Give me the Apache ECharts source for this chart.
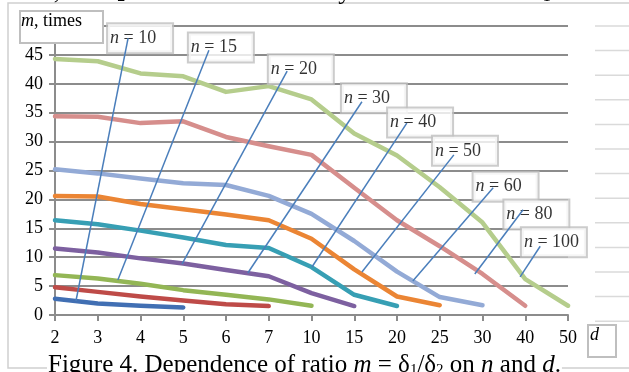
<!DOCTYPE html>
<html>
<head>
<meta charset="utf-8">
<script src="https://cdn.jsdelivr.net/npm/echarts@6/dist/echarts.min.js"></script>
<style>
  html, body { margin: 0; padding: 0; background: #fff; }
  #chart { width: 629px; height: 372px; }
</style>
</head>
<body>
<div id="chart"></div>
<script>
// d values on the x axis
const dLabels = ['2', '3', '4', '5', '6', '7', '10', '15', '20', '25', '30', '40', '50'];

// m = δ1/δ2 for every n, read from d = 2 upward
const m10 = [2.8, 2.0, 1.6, 1.3];
const m15 = [4.8, 4.0, 3.2, 2.5, 1.85, 1.55];
const m20 = [6.9, 6.3, 5.4, 4.3, 3.5, 2.7, 1.6];
const m30 = [11.5, 10.8, 9.8, 8.9, 7.8, 6.7, 3.8, 1.55];
const m40 = [16.4, 15.7, 14.6, 13.4, 12.1, 11.6, 8.3, 3.5, 1.55];
const m50 = [20.6, 20.5, 19.2, 18.3, 17.4, 16.4, 13.2, 7.9, 3.2, 1.7];
const m60 = [25.2, 24.5, 23.6, 22.8, 22.5, 20.6, 17.5, 12.8, 7.5, 3.1, 1.7];
const m80 = [34.4, 34.3, 33.2, 33.5, 30.8, 29.2, 27.7, 22.0, 16.4, 11.9, 7.1, 1.6];
const m100 = [44.3, 43.9, 41.8, 41.3, 38.6, 39.6, 37.3, 31.4, 27.6, 22.1, 16.0, 6.2, 1.6];

const nValues = [10, 15, 20, 30, 40, 50, 60, 80, 100];
const curves = [m10, m15, m20, m30, m40, m50, m60, m80, m100];
const colors = ['#416FB3', '#BE4B48', '#93B655', '#7D60A0', '#379FB4',
                '#EB8534', '#93AAD6', '#D68E8C', '#B5CD8C'];

// callouts, [x index on d axis, m]
const boxAt = [[1.99, 47.9], [3.88, 46.3], [5.75, 42.5], [7.46, 37.5], [8.54, 33.3],
               [9.59, 28.4], [10.54, 22.2], [11.26, 17.4], [11.67, 12.6]];
const leaderFrom = [[1.71, 47.9], [3.60, 45.8], [5.43, 42.2], [7.18, 36.9], [8.23, 33.2],
                    [9.33, 27.7], [10.25, 22.0], [10.95, 18.2], [11.35, 11.9]];
const leaderTo = [[0.49, 2.42], [1.47, 6.06], [2.97, 8.8], [4.51, 7.27], [6.01, 8.3],
                  [7.18, 7.44], [8.37, 5.9], [9.82, 7.1], [10.88, 6.6]];

const serif = '"Liberation Serif", "Times New Roman", serif';
const gridGray = '#8C8C8C';

let chart = echarts.init(document.getElementById('chart'));

let series = [];
curves.forEach((vals, i) => {
    series.push({
        type: 'line',
        name: 'n = ' + nValues[i],
        xAxisIndex: 0,
        data: vals,
        symbol: 'none',
        z: 2,
        lineStyle: { color: colors[i], width: 4.5, cap: 'round', join: 'round' }
    });
});

// label boxes
series.push({
    type: 'scatter',
    xAxisIndex: 1,
    symbolSize: 0,
    z: 3,
    data: boxAt.map((p, i) => ({ value: p, name: String(nValues[i]) })),
    label: {
        show: true,
        position: 'inside',
        offset: [-32, 0],
        formatter: p => '{i|n} = ' + p.name,
        fontFamily: serif,
        fontSize: 18,
        color: '#000',
        width: 60,
        height: 24,
        lineHeight: 24,
        align: 'left',
        padding: [2, 2, 2, 2],
        backgroundColor: '#fff',
        borderColor: '#BFBFBF',
        borderWidth: 2,
        rich: { i: { fontStyle: 'italic', fontFamily: serif, fontSize: 18 } }
    }
});

// leader lines
leaderFrom.forEach((p, i) => {
    series.push({
        type: 'line',
        xAxisIndex: 1,
        data: [p, leaderTo[i]],
        symbol: 'none',
        z: 5,
        lineStyle: { color: '#4A7EBB', width: 1.5 }
    });
});

// light page rules on the right edge
let rules = [];
for (let k = 0; k < 13; k++) {
    rules.push({
        type: 'line', z: -1,
        shape: { x1: 595, y1: 26 + 24.6 * k, x2: 629, y2: 26 + 24.6 * k },
        style: { stroke: '#DADADA', lineWidth: 1.5 }
    });
}

let option = {
    animation: false,
    backgroundColor: '#fff',
    grid: { left: 55, right: 61, top: 26, bottom: 57 },
    xAxis: [{
        type: 'category',
        data: dLabels,
        boundaryGap: false,
        axisLine: { lineStyle: { color: gridGray, width: 2 } },
        axisTick: { length: 6, lineStyle: { color: gridGray, width: 2 } },
        axisLabel: { color: '#000', fontFamily: serif, fontSize: 18, margin: 14 },
        splitLine: { show: false }
    }, {
        type: 'value',
        min: 0,
        max: 12,
        show: false
    }],
    yAxis: {
        type: 'value',
        min: 0,
        max: 50,
        interval: 5,
        axisLine: { show: true, lineStyle: { color: gridGray, width: 2 } },
        axisTick: { show: true, length: 6, lineStyle: { color: gridGray, width: 2 } },
        axisLabel: { color: '#000', fontFamily: serif, fontSize: 18, margin: 12 },
        splitLine: { show: true, lineStyle: { color: gridGray, width: 2 } }
    },
    graphic: rules.concat([
        // chart frame
        { type: 'polyline', z: 0, shape: { points: [[629, 3], [8, 3], [8, 368], [629, 368]] },
          style: { stroke: '#D0D0D0', lineWidth: 1.5, fill: null } },
        // text of the page around the figure
        { type: 'text', z: 1, left: -1, top: -21,
          style: { text: 'cases, the δ{s|2} value is considerably smaller than the δ{s|1} one.',
                   font: '26px ' + serif, fill: '#000',
                   rich: { s: { fontSize: 16, padding: [10, 0, 0, 0], fontFamily: serif } } } },
        { type: 'text', z: 1, left: 47, top: 353,
          style: { text: 'Figure 4. Dependence of ratio {i|m} = δ{s|1}/δ{s|2} on {i|n} and {i|d}.',
                   font: '25px ' + serif, fill: '#000', backgroundColor: '#fff', padding: [0, 1],
                   rich: { i: { fontStyle: 'italic', fontFamily: serif, fontSize: 25 },
                           s: { fontSize: 15, padding: [10, 0, 0, 0], fontFamily: serif } } } },
        // axis titles in boxes
        { type: 'rect', z: 100, shape: { x: 20, y: 11, width: 83, height: 32 },
          style: { fill: '#fff', stroke: '#BFBFBF', lineWidth: 2 } },
        { type: 'text', z: 101, left: 21, top: 12,
          style: { text: '{i|m}, times', font: '18px ' + serif, fill: '#000',
                   rich: { i: { fontStyle: 'italic', fontFamily: serif, fontSize: 18 } } } },
        { type: 'rect', z: 100, shape: { x: 588, y: 325, width: 28, height: 32 },
          style: { fill: '#fff', stroke: '#BFBFBF', lineWidth: 2 } },
        { type: 'text', z: 101, left: 590, top: 326,
          style: { text: 'd', font: 'italic 18px ' + serif, fill: '#000' } }
    ]),
    series: series
};

chart.setOption(option);
</script>
</body>
</html>
